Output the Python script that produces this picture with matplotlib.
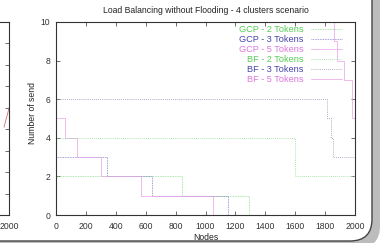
import matplotlib
matplotlib.use('Agg')
import matplotlib.pyplot as plt
from matplotlib.patches import FancyBboxPatch
from matplotlib.transforms import IdentityTransform

plt.rcParams['font.family'] = ['Liberation Sans', 'DejaVu Sans']

# step data (nodes, number of sends)
gcp2_x = [0, 840, 1290, 2000]
gcp2_y = [2, 1, 0, 0]
gcp3_x = [0, 340, 640, 1150, 2000]
gcp3_y = [3, 2, 1, 0, 0]
gcp5_x = [0, 60, 140, 300, 570, 1050, 2000]
gcp5_y = [5, 4, 3, 2, 1, 0, 0]
bf2_x = [0, 1600, 2000]
bf2_y = [4, 2, 2]
bf3_x = [0, 1810, 1840, 1850, 2000]
bf3_y = [6, 5, 4, 3, 3]
bf5_x = [0, 1860, 1880, 1925, 1980, 2000]
bf5_y = [10, 9, 8, 7, 5, 5]

# bit of the neighbouring chart visible on the left edge
left_x = [2000, 1990, 1978, 1967]
left_y = [5.0, 4.7, 4.4, 4.1]

x_ticks = list(range(0, 2001, 200))
y_ticks = list(range(0, 11, 2))

title = "Load Balancing without Flooding - 4 clusters scenario"

green_line = '#8fdc8f'
blue_line = '#8080cc'
pink_line = '#eaa0ea'
green_text = '#55cc55'
blue_text = '#4444aa'
pink_text = '#dd77dd'

fig = plt.figure(figsize=(3.84, 2.43), dpi=100)
fig.patch.set_facecolor('white')

# slide frame with shadow (pixel coords)
shadow = FancyBboxPatch((-200, -5), 580, 400, boxstyle='round,pad=0,rounding_size=22',
                        transform=IdentityTransform(), facecolor='#bcbcbc',
                        edgecolor='none', zorder=-6)
frame = FancyBboxPatch((-200, 2), 572, 400, boxstyle='round,pad=0,rounding_size=22',
                       transform=IdentityTransform(), facecolor='white',
                       edgecolor='#444444', lw=1.0, zorder=-5)
fig.add_artist(shadow)
fig.add_artist(frame)

# left neighbour chart (mostly off the picture)
ax0 = fig.add_axes([(9 - 299) / 384, 28 / 243, 299 / 384, 193 / 243])
ax0.set_facecolor('none')
ax0.plot(left_x, left_y, color='#d07070', lw=0.6)
ax0.set_xlim(0, 2000)
ax0.set_ylim(0, 9)
ax0.set_xticks([2000])
ax0.set_yticks(range(10))
ax0.set_yticklabels([])
ax0.tick_params(direction='in', length=3, width=0.5, labelsize=6.2, pad=5,
                right=True, top=True, colors='#333333')
for s in ax0.spines.values():
    s.set_linewidth(0.8)
    s.set_color('#333333')

# main chart
ax = fig.add_axes([56 / 384, 28 / 243, 299 / 384, 193 / 243])
ax.set_facecolor('none')

dots = (0, (1, 1))
ax.step(gcp2_x, gcp2_y, where='post', color=green_line, lw=0.6, ls=dots, label='GCP - 2 Tokens')
ax.step(gcp3_x, gcp3_y, where='post', color=blue_line, lw=0.6, ls=dots, label='GCP - 3 Tokens')
ax.step(gcp5_x, gcp5_y, where='post', color=pink_line, lw=0.5, label='GCP - 5 Tokens')
ax.step(bf2_x, bf2_y, where='post', color=green_line, lw=0.6, ls=(0, (1, 1.5)), label='BF - 2 Tokens')
ax.step(bf3_x, bf3_y, where='post', color='#9090b0', lw=0.6, ls=(0, (1, 1.5)), label='BF - 3 Tokens')
ax.step(bf5_x, bf5_y, where='post', color=pink_line, lw=0.5, label='BF - 5 Tokens')

ax.set_xlim(0, 2000)
ax.set_ylim(0, 10)
ax.set_xticks(x_ticks)
ax.set_yticks(y_ticks)
ax.tick_params(direction='in', length=3, width=0.5, labelsize=6.2,
               right=True, top=True, colors='#333333')
ax.tick_params(axis='x', pad=5)
ax.tick_params(axis='y', pad=4)
for s in ax.spines.values():
    s.set_linewidth(0.8)
    s.set_color('#333333')

ax.set_title(title, fontsize=6.2, pad=6.5, color='#222222')
ax.set_xlabel('Nodes', fontsize=6.2, va='center', color='#222222')
ax.xaxis.set_label_coords(0.5, -0.119)
ax.set_ylabel('Number of send', fontsize=6.2, va='center', color='#222222')
ax.yaxis.set_label_coords(-0.077, 0.531)

leg = ax.legend(loc='upper right', bbox_to_anchor=(0.957, 0.985), frameon=False,
                markerfirst=False, fontsize=6.6,
                handlelength=3.4, handletextpad=0.8, labelspacing=0.12,
                borderaxespad=0, borderpad=0)
text_colors = [green_text, blue_text, pink_text, green_text, blue_text, pink_text]
for txt, c in zip(leg.get_texts(), text_colors):
    txt.set_color(c)

fig.savefig('out.png', dpi=100)
